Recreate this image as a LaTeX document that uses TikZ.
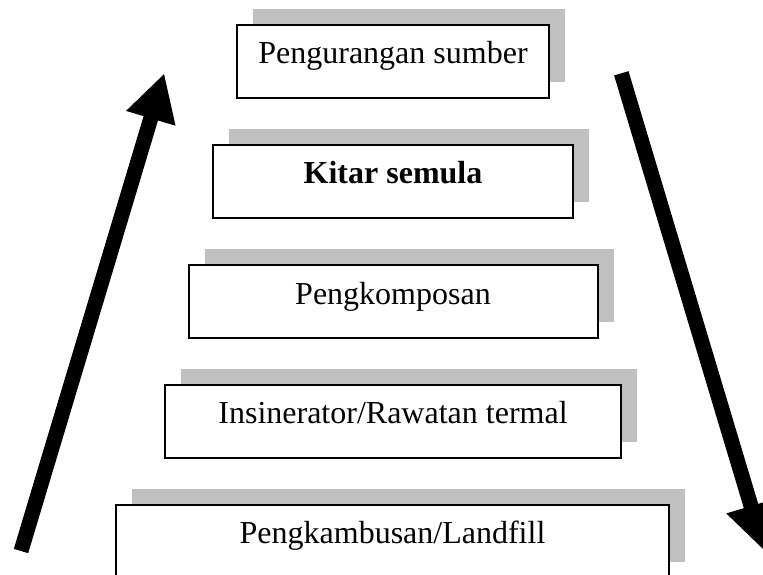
\documentclass[tikz,border=0pt]{standalone}
\usepackage{fontspec}
\setmainfont{Liberation Serif}
\usetikzlibrary{arrows.meta,shadows}
\definecolor{shadowgray}{RGB}{192,192,192}
\begin{document}
\begin{tikzpicture}[x=0.5pt,y=-0.5pt,
    stage/.style={draw, line width=1pt, fill=white, inner sep=0pt,
      minimum height=36.5pt, text height=0.65em, text depth=0.36em,
      font=\fontsize{16}{19}\selectfont,
      drop shadow={shadow xshift=8pt, shadow yshift=8pt, fill=shadowgray, opacity=1}},
    bigarrow/.style={line width=7.5pt, -{Triangle[width=24pt,length=23.5pt]}}]

    \useasboundingbox (0,0) rectangle (763,574);
    \clip (0,0) rectangle (763,574);

    % the five stages
    \node[stage, minimum width=156.3pt] (sumber)   at (393,61)    {Pengurangan sumber};
    \node[stage, minimum width=180.3pt] (kitar)    at (393,181)   {\textbf{Kitar semula}};
    \node[stage, minimum width=204.5pt] (kompos)   at (393,301.3) {Pengkomposan};
    \node[stage, minimum width=228.4pt] (insin)    at (393,421)   {Insinerator/Rawatan termal};
    \node[stage, minimum width=276.5pt] (landfill) at (392.5,541) {Pengkambusan/Landfill};

    % arrows at the sides
    \coordinate (upfoot) at (21,551);
    \coordinate (uptip) at (164.3,73.3);
    \coordinate (downfoot) at (621.3,73.3);
    \coordinate (downtip) at (764.5,551);
    \draw[bigarrow] (upfoot) -- (uptip);
    \draw[bigarrow] (downfoot) -- (downtip);

\end{tikzpicture}
\end{document}
